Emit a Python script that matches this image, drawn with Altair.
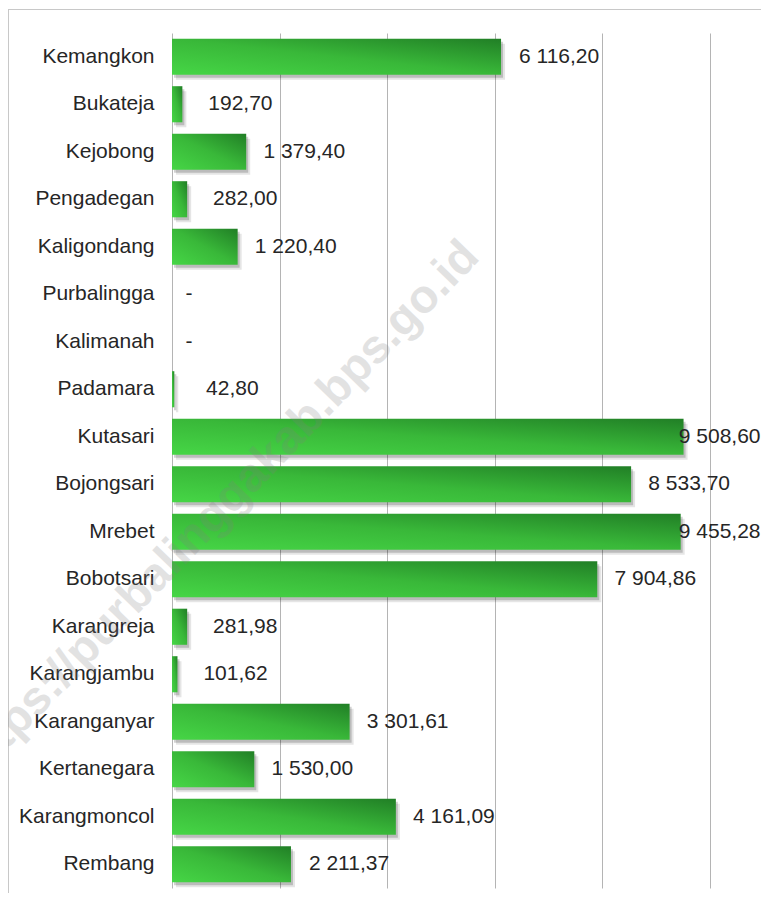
import altair as alt
import pandas as pd

districts = ["Kemangkon", "Bukateja", "Kejobong", "Pengadegan", "Kaligondang",
             "Purbalingga", "Kalimanah", "Padamara", "Kutasari", "Bojongsari\u00a0",
             "Mrebet", "Bobotsari", "Karangreja", "Karangjambu", "Karanganyar",
             "Kertanegara", "Karangmoncol", "Rembang"]
values = [6116.20, 192.70, 1379.40, 282.00, 1220.40, 0, 0, 42.80, 9508.60,
          8533.70, 9455.28, 7904.86, 281.98, 101.62, 3301.61, 1530.00, 4161.09, 2211.37]
labels = ["6 116,20", "192,70", "1 379,40", "282,00", "1 220,40", "-", "-", "42,80",
          "9 508,60", "8 533,70", "9 455,28", "7 904,86", "281,98", "101,62",
          "3 301,61", "1 530,00", "4 161,09", "2 211,37"]
x_ticks = [0, 2000, 4000, 6000, 8000, 10000]
watermark = "https://purbalinggakab.bps.go.id"

df = pd.DataFrame({"district": districts, "value": values, "label": labels})

FONT = "Liberation Sans"
TXT = "#262626"

y_enc = alt.Y("district:N", sort=districts, title=None,
              scale=alt.Scale(paddingInner=0.24, paddingOuter=0.12),
              axis=alt.Axis(labelFontSize=21, labelFont=FONT, labelColor=TXT,
                            labelPadding=18, ticks=False, domain=False, grid=False))
x_enc = alt.X("value:Q", title=None,
              scale=alt.Scale(domain=[0, 10000], nice=False),
              axis=alt.Axis(values=x_ticks, grid=True, gridColor="#b4b4b4",
                            gridWidth=1, labels=False, ticks=False, domain=False))

base = alt.Chart(df)

shadow1 = base.mark_bar(color="#000000", opacity=0.10, xOffset=4, yOffset=5).encode(x=x_enc, y=y_enc)
shadow2 = base.mark_bar(color="#000000", opacity=0.18, xOffset=2, yOffset=3).encode(x=x_enc, y=y_enc)

grad = alt.LinearGradient(
    gradient="linear",
    stops=[alt.GradientStop(offset=0, color="#46d646"),
           alt.GradientStop(offset=0.5, color="#39b839"),
           alt.GradientStop(offset=1, color="#217f26")],
    x1=0, y1=1, x2=1, y2=0)

bars = base.mark_bar(color=grad).encode(x=x_enc, y=y_enc)

text = base.transform_calculate(
    lx="datum.value == 0 ? 316 : min(datum.value, 9100) + 1079"
).mark_text(align="center", baseline="middle", fontSize=21, font=FONT, color=TXT).encode(
    x=alt.X("lx:Q"), y=y_enc, text="label:N")

wm = alt.Chart(pd.DataFrame({"t": [watermark]})).mark_text(
    angle=314, fontSize=47, fontWeight="bold", font=FONT, color="#808080",
    opacity=0.22, align="center", baseline="middle").encode(
    x=alt.value(46), y=alt.value(478), text="t:N")

frame = alt.Chart(pd.DataFrame({"a": [0]}))
left_border = frame.mark_rule(color="#c8c8c8", strokeWidth=1).encode(
    x=alt.value(-163.5), y=alt.value(-24), y2=alt.value(870))
top_border = frame.mark_rule(color="#c8c8c8", strokeWidth=1).encode(
    x=alt.value(-163.5), x2=alt.value(600), y=alt.value(-23.5))

chart = alt.layer(left_border, top_border, shadow1, shadow2, bars, wm, text).properties(
    width=538, height=855,
    autosize=alt.AutoSizeParams(type="none"),
    padding={"left": 164, "top": 25, "right": 51, "bottom": 5},
).configure_view(stroke=None)

chart.save("out.html", embed_options={"renderer": "svg", "actions": False})
